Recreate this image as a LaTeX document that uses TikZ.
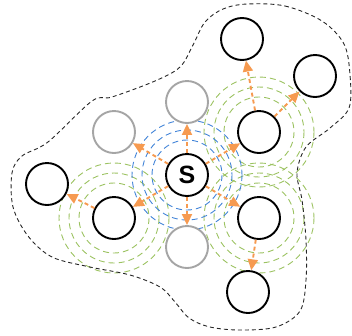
\documentclass[tikz,border=0pt]{standalone}
\usepackage{fontspec}
\newfontfamily\labfont{Liberation Sans}
\usetikzlibrary{arrows.meta}
\definecolor{arrorange}{RGB}{246,154,80}
\definecolor{ringgreen}{RGB}{155,194,96}
\definecolor{ringblue}{RGB}{66,132,216}
\definecolor{nodegray}{RGB}{165,165,165}
\tikzset{
  nd/.style={circle,draw=black,line width=1.9pt,fill=white,minimum size=42pt,inner sep=0pt},
  gnd/.style={nd,draw=nodegray},
  arr/.style={draw=arrorange,line width=1.9pt,dash pattern=on 4pt off 3pt,-{Triangle[length=11pt,width=10pt]}},
  gring/.style={draw=ringgreen,line width=0.9pt,dash pattern=on 6pt off 4pt},
  bring/.style={draw=ringblue,line width=0.9pt,dash pattern=on 6pt off 4pt},
  blob/.style={draw=black!85,line width=0.9pt,dash pattern=on 4pt off 3pt}
}
\begin{document}
\begin{tikzpicture}[x=1pt,y=-1pt]
\useasboundingbox (0,0) rectangle (352,335);
% coordinates of ring centres
\coordinate (cS) at (187,175);
\coordinate (cRU) at (259,132);
\coordinate (cRL) at (259,218);
\coordinate (cLL) at (114,218);
% rings
\foreach \c in {cRU,cRL,cLL}{
  \foreach \r in {35,45,55}{
    \draw[gring] (\c) circle[radius=\r];
  }
}
\foreach \r in {35,45,55}{
  \draw[bring] (cS) circle[radius=\r];
}
% blob outline
\draw[blob] plot[smooth cycle,tension=0.55] coordinates {
 (247,4) (285,6) (322,21) (344,44) (350,75) (349,108) (330,128) (306,147)
 (297,173) (302,200) (306,240) (306,280) (300,311) (276,327) (240,330)
 (210,327) (189,318) (175,302) (160,287) (130,275) (90,267) (52,257)
 (28,236) (13,207) (12,173) (22,156) (48,142) (92,101) (112,97) (155,81)
 (180,67) (193,45) (205,22) (223,9)};
% nodes
\node[nd] (S) at (cS) {\labfont\bfseries\fontsize{25}{25}\selectfont S};
\node[gnd] (gT) at (187,102) {};
\node[gnd] (gUL) at (114,132) {};
\node[gnd] (gB) at (187,247) {};
\node[nd] (RU) at (cRU) {};
\node[nd] (RL) at (cRL) {};
\node[nd] (LL) at (cLL) {};
\node[nd] (FL) at (47,184) {};
\node[nd] (TR) at (242,39) {};
\node[nd] (FR) at (315,76) {};
\node[nd] (BR) at (248,292) {};
% arrows
\draw[arr] (S) -- (gT);
\draw[arr] (S) -- (gUL);
\draw[arr] (S) -- (gB);
\draw[arr] (S) -- (RU);
\draw[arr] (S) -- (RL);
\draw[arr] (S) -- (LL);
\draw[arr] (LL) -- (FL);
\draw[arr] (RU) -- (TR);
\draw[arr] (RU) -- (FR);
\draw[arr] (RL) -- (BR);
\end{tikzpicture}
\end{document}
